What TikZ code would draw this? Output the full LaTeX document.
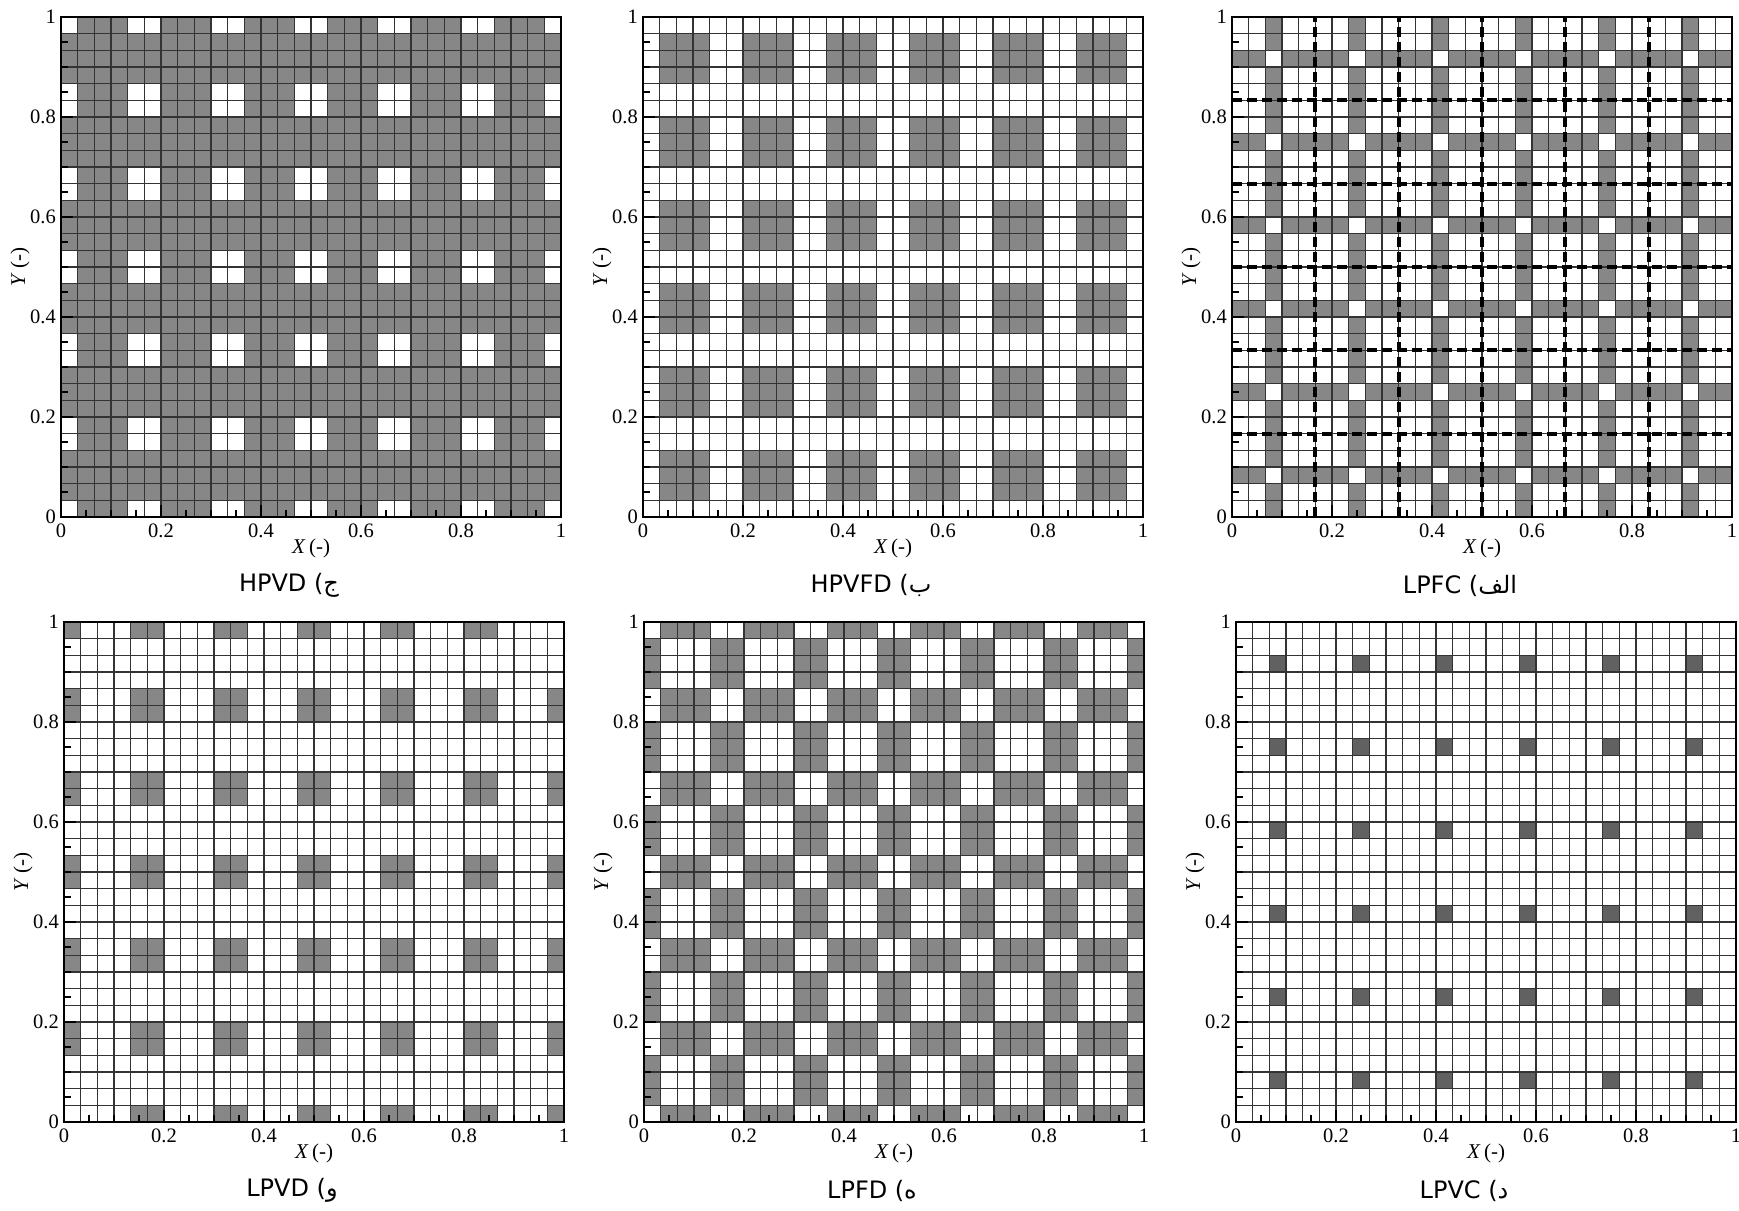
\documentclass[tikz,border=0pt]{standalone}
\usepackage{fontspec}
\setmainfont{Liberation Serif}
\newfontfamily\arabicfont[Script=Arabic]{DejaVu Sans}
\TeXXeTstate=1
\usetikzlibrary{positioning}

% fill the 30x30 cells for which #1 gives 1
\newcommand\cellfill[2]{%
  \foreach \ci in {0,...,29}{%
    \foreach \cj in {0,...,29}{%
      \pgfmathtruncatemacro\ca{mod(\ci,5)}%
      \pgfmathtruncatemacro\cb{mod(\cj,5)}%
      \pgfmathtruncatemacro\cp{(\ca>0)&&(\ca<4)}%
      \pgfmathtruncatemacro\cq{(\cb>0)&&(\cb<4)}%
      \pgfmathtruncatemacro\con{#1}%
      \ifnum\con=1 \fill[#2] (\ci/30,\cj/30) rectangle ++(1/30,1/30);\fi
    }}}

% #1 name, #2 origin, #3 rule, #4 fill style, #5 letter, #6 case
\newcommand\gridpanel[6]{%
  \begin{scope}[shift={#2},x=500pt,y=500pt]
    \cellfill{#3}{#4}
    \foreach \k in {1,...,29}
      \draw[gridline] (\k/30,0) -- (\k/30,1) (0,\k/30) -- (1,\k/30);
    \draw[frame] (0,0) rectangle (1,1);
    \foreach \k in {0,...,20}
      \draw[tick] (\k/20,0) -- ++(0,7pt) (0,\k/20) -- ++(7pt,0);
    \foreach \k/\t in {0/0,1/0.2,2/0.4,3/0.6,4/0.8,5/1}{
      \draw[tick] (\k/5,0) -- ++(0,12pt) (0,\k/5) -- ++(12pt,0);
      \node[xlab] (#1x\k) at (\k/5,0) {\t};
      \node[ylab] (#1y\k) at (0,\k/5) {\t};
    }
    \node[axlab] (#1xt) at (0.5,-0.062) {\textit{X}\,(-)};
    \node[axlab,rotate=90] (#1yt) at (-0.082,0.5) {\textit{Y}\,(-)};
    \node[captext] (#1cap) at (0.456,-0.137)
      {\beginR #5) \beginL #6\endL\endR};
  \end{scope}}

\begin{document}
\begin{tikzpicture}[x=1pt,y=1pt,
  cell/.style={fill=black!47},
  darkcell/.style={fill=black!62},
  gridline/.style={black!80,line width=1.1pt},
  frame/.style={black,line width=2.6pt},
  tick/.style={black,line width=1.4pt},
  xlab/.style={anchor=north,inner sep=0pt,yshift=-7pt,font=\rmfamily\fontsize{20.5}{24}\selectfont},
  ylab/.style={anchor=east,inner sep=0pt,xshift=-5pt,font=\rmfamily\fontsize{20.5}{24}\selectfont},
  axlab/.style={inner sep=0pt,font=\rmfamily\fontsize{21}{24}\selectfont},
  captext/.style={inner sep=0pt,font=\arabicfont\fontsize{24}{28}\selectfont},
  dashline/.style={black,line width=4pt,dash pattern=on 10pt off 5pt}]
\useasboundingbox (0,0) rectangle (1739,1210);

\gridpanel{hpvd}{(61pt,693pt)}{\cp||\cq}{cell}{ج}{HPVD}
\gridpanel{hpvfd}{(643pt,693pt)}{\cp&&\cq}{cell}{ب}{HPVFD}
\gridpanel{lpfc}{(1232pt,693pt)}{(\ca==2)!=(\cb==2)}{cell}{الف}{LPFC}
\gridpanel{lpvd}{(64pt,88pt)}{(\cp==0)&&(\cq==0)&&(\ci+\cj>0)&&(\ci+\cj<58)}{cell}{و}{LPVD}
\gridpanel{lpfd}{(644pt,88pt)}{\cp!=\cq}{cell}{ه}{LPFD}
\gridpanel{lpvc}{(1236pt,88pt)}{(\ca==2)&&(\cb==2)}{darkcell}{د}{LPVC}

% block boundaries of LPFC
\begin{scope}[shift={(1232pt,693pt)},x=500pt,y=500pt]
  \foreach \k in {1,...,5}
    \draw[dashline] (\k/6,0) -- (\k/6,1) (0,\k/6) -- (1,\k/6);
\end{scope}
\end{tikzpicture}
\end{document}
